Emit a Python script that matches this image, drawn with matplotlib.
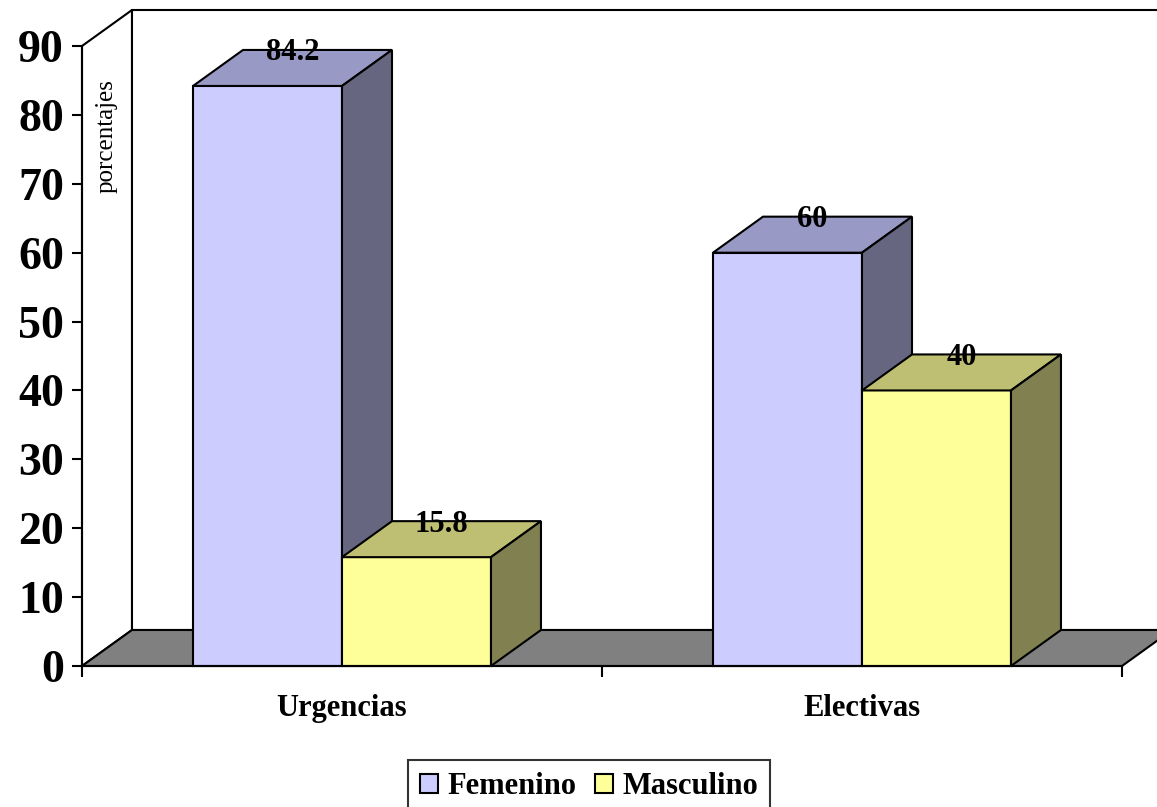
import matplotlib
matplotlib.use("Agg")
import matplotlib.pyplot as plt
from matplotlib.patches import Polygon, Patch

plt.rcParams['font.family'] = ['Liberation Serif', 'DejaVu Serif']

# --- data ---
categories = ['Urgencias', 'Electivas']
series_names = ['Femenino', 'Masculino']
femenino = [84.2, 60]
masculino = [15.8, 40]
y_ticks = list(range(0, 100, 10))

# face colours: front, top, side
colors = {
    'Femenino': ('#CCCCFF', '#9999C6', '#666680'),
    'Masculino': ('#FFFF99', '#BFBF73', '#808050'),
}

W, H = 1157, 807
fig = plt.figure(figsize=(W / 100, H / 100), dpi=100)

# front plot area in pixels
x0, x1 = 82, 1122
y0, y1 = 666, 46
ax = fig.add_axes([x0 / W, 1 - y0 / H, (x1 - x0) / W, (y0 - y1) / H])
ax.set_xlim(0, 2)
ax.set_ylim(0, 90)
ax.patch.set_visible(False)

# depth of the 3d box, converted to data units
DX = 50 / (x1 - x0) * 2
DY = 36 / (y0 - y1) * 90
LW = 1.5
YTOP = 90

def poly(pts, fc, z):
    p = Polygon(pts, closed=True, facecolor=fc, edgecolor='black',
                linewidth=LW, clip_on=False, zorder=z, joinstyle='miter')
    ax.add_patch(p)

# walls and floor
poly([(0, 0), (0, YTOP), (DX, YTOP + DY), (DX, DY)], 'white', 1)
poly([(DX, DY), (DX, YTOP + DY), (2 + DX, YTOP + DY), (2 + DX, DY)], 'white', 1)
poly([(0, 0), (2, 0), (2 + DX, DY), (DX, DY)], '#808080', 2)

bar_w = 0.2865
label_drop = 3 / (y0 - y1) * 90

def bar3d(left, value, name, z):
    front, top, side = colors[name]
    right = left + bar_w
    poly([(left, 0), (right, 0), (right, value), (left, value)], front, z)
    poly([(left, value), (right, value), (right + DX, value + DY),
          (left + DX, value + DY)], top, z)
    poly([(right, 0), (right + DX, DY), (right + DX, value + DY),
          (right, value)], side, z)
    ax.text(left + bar_w / 2 + DX / 2, value + DY - label_drop, f'{value:g}',
            ha='center', va='center', fontsize=22, fontweight='bold',
            zorder=z + 1, clip_on=False)

z = 3
for i, cat in enumerate(categories):
    c = i + 0.5
    bar3d(c - bar_w, femenino[i], 'Femenino', z)
    bar3d(c, masculino[i], 'Masculino', z + 2)
    z += 4

# axes
for s in ['top', 'right']:
    ax.spines[s].set_visible(False)
for s in ['left', 'bottom']:
    ax.spines[s].set_linewidth(LW)
    ax.spines[s].set_zorder(20)

ax.set_yticks(y_ticks)
ax.set_yticklabels([str(t) for t in y_ticks], fontsize=33, fontweight='bold')
ax.tick_params(axis='y', direction='out', length=7, width=LW, pad=6)

ax.set_xticks([0, 1, 2])
ax.set_xticklabels([])
ax.tick_params(axis='x', which='major', direction='out', length=8, width=LW)
ax.set_xticks([0.5, 1.5], minor=True)
ax.set_xticklabels(categories, minor=True, fontsize=22, fontweight='bold')
ax.tick_params(axis='x', which='minor', length=0, pad=20)

fig.text(107 / W, 1 - 136 / H, 'porcentajes', rotation=90,
         ha='center', va='center', fontsize=18)

handles = [Patch(facecolor=colors[n][0], edgecolor='black', linewidth=LW)
           for n in series_names]
leg = fig.legend(handles, series_names, loc='upper center', ncol=2,
                 bbox_to_anchor=(589 / W, 1 - 760 / H),
                 prop={'size': 22, 'weight': 'bold'},
                 frameon=True, fancybox=False, edgecolor='black',
                 handlelength=0.6, handleheight=0.6, handletextpad=0.3,
                 columnspacing=0.6, borderpad=0.4, borderaxespad=0)
leg.get_frame().set_linewidth(LW)

fig.savefig('out.png', dpi=100)
